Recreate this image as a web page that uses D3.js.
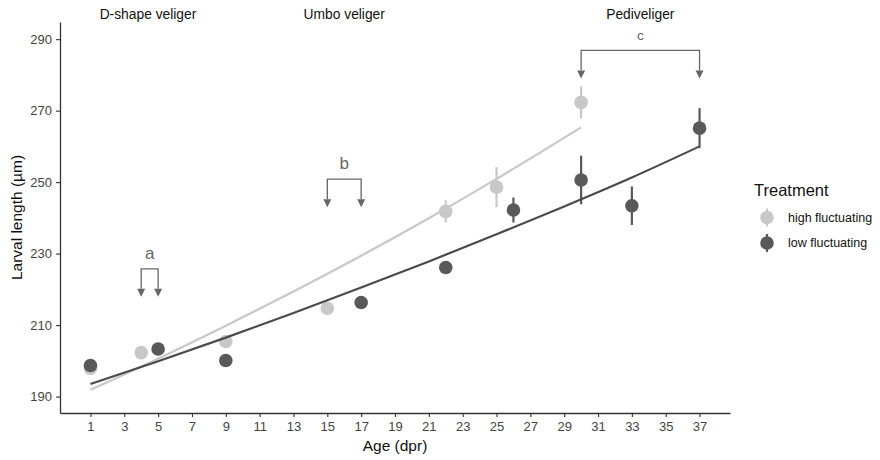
<!DOCTYPE html>
<html>
<head>
<meta charset="utf-8">
<script src="https://cdn.jsdelivr.net/npm/d3@7"></script>
<style>
  body { margin: 0; background: #fff; }
  svg { font-family: Arial, "Liberation Sans", sans-serif; }
</style>
</head>
<body>
<svg id="chart" width="880" height="460"></svg>
<script>
// measured means (µm) per age (dpr)
const highAge = [1, 4, 9, 15, 22, 25, 30];
const highMean = [197.9, 202.3, 205.4, 214.7, 241.8, 248.6, 272.3];
const highErr = [0.8, 0.8, 1.0, 0.8, 3.1, 5.6, 4.5];

const lowAge = [1, 5, 9, 17, 22, 26, 30, 33, 37];
const lowMean = [198.7, 203.3, 200.1, 216.3, 226.1, 242.2, 250.6, 243.4, 265.1];
const lowErr = [0.8, 0.8, 0.8, 0.8, 0.8, 3.5, 6.8, 5.4, 5.6];

// fitted growth curves
const highFitAge = [1, 5, 9, 13, 17, 21, 25, 30];
const highFit = [191.9, 200.6, 209.8, 219.4, 229.4, 239.9, 250.9, 265.3];
const lowFitAge = [1, 5, 9, 13, 17, 21, 25, 29, 33, 37];
const lowFit = [193.5, 199.9, 206.5, 213.4, 220.5, 227.8, 235.4, 243.2, 251.3, 260.0];

const xTicks = d3.range(1, 38, 2);
const yTicks = [190, 210, 230, 250, 270, 290];

const stageNames = ['D-shape veliger', 'Umbo veliger', 'Pediveliger'];
const stageAge = [4.4, 16, 33.5];

const bracketLabels = ['a', 'b', 'c'];
const bracketFrom = [4, 15, 30];
const bracketTo = [5, 17, 37];
const bracketTip = [217.9, 243.0, 279.0];

const treatments = ['high fluctuating', 'low fluctuating'];
const colors = ['#c8c8c8', '#595959'];
const lineColors = ['#c8c8c8', '#4a4a4a'];

const svg = d3.select('#chart');
const x = d3.scaleLinear().domain([-0.8, 38.8]).range([60, 730]);
const y = d3.scaleLinear().domain([185.4, 294.8]).range([413, 22]);

// axes
const xAxis = svg.append('g')
  .attr('transform', 'translate(0,413)')
  .call(d3.axisBottom(x).tickValues(xTicks).tickSize(4).tickPadding(5).tickSizeOuter(0));
const yAxis = svg.append('g')
  .attr('transform', 'translate(60,0)')
  .call(d3.axisLeft(y).tickValues(yTicks).tickSize(4).tickPadding(4).tickSizeOuter(0));
[xAxis, yAxis].forEach(a => {
  a.select('.domain').attr('stroke', '#333').attr('stroke-width', 1.3);
  a.selectAll('.tick line').attr('stroke', '#333').attr('stroke-width', 1.1);
  a.selectAll('.tick text').attr('fill', '#444').style('font-size', '13px');
});

svg.append('text')
  .attr('x', 395).attr('y', 451)
  .attr('text-anchor', 'middle')
  .style('font-size', '15.5px').attr('fill', '#111')
  .text('Age (dpr)');
svg.append('text')
  .attr('transform', 'translate(22,217.5) rotate(-90)')
  .attr('text-anchor', 'middle')
  .style('font-size', '15.5px').attr('fill', '#111')
  .text('Larval length (µm)');

// points with error bars
const groups = [
  { age: highAge, mean: highMean, err: highErr },
  { age: lowAge, mean: lowMean, err: lowErr }
];
groups.forEach((g, gi) => {
  const rows = g.age.map((a, i) => ({ a: a, m: g.mean[i], e: g.err[i] }));
  const layer = svg.append('g');
  layer.selectAll('line')
    .data(rows)
    .enter()
    .append('line')
    .attr('x1', d => x(d.a)).attr('x2', d => x(d.a))
    .attr('y1', d => y(d.m - d.e)).attr('y2', d => y(d.m + d.e))
    .attr('stroke', colors[gi])
    .attr('stroke-width', 2.2);
  layer.selectAll('circle')
    .data(rows)
    .enter()
    .append('circle')
    .attr('cx', d => x(d.a))
    .attr('cy', d => y(d.m))
    .attr('r', 6.8)
    .attr('fill', colors[gi]);
});

// fitted lines
const line = d3.line().x(d => x(d[0])).y(d => y(d[1])).curve(d3.curveMonotoneX);
[[highFitAge, highFit], [lowFitAge, lowFit]].forEach((f, fi) => {
  svg.append('path')
    .datum(f[0].map((a, i) => [a, f[1][i]]))
    .attr('d', line)
    .attr('fill', 'none')
    .attr('stroke', lineColors[fi])
    .attr('stroke-width', 2.2);
});

// stage labels
stageNames.forEach((s, i) => {
  svg.append('text')
    .attr('x', x(stageAge[i])).attr('y', 19)
    .attr('text-anchor', 'middle')
    .style('font-size', '13.8px').attr('fill', '#111')
    .text(s);
});

// brackets with arrows
const bracketFont = ['17px', '17px', '13.5px'];
bracketLabels.forEach((lab, i) => {
  const tip = y(bracketTip[i]);
  const top = tip - 28;
  const g = svg.append('g').attr('stroke', '#666').attr('fill', '#666');
  g.append('path')
    .attr('d', `M${x(bracketFrom[i])},${tip - 8}V${top}H${x(bracketTo[i])}V${tip - 8}`)
    .attr('fill', 'none')
    .attr('stroke-width', 1.3);
  [bracketFrom[i], bracketTo[i]].forEach(a => {
    const cx = x(a);
    g.append('path')
      .attr('d', `M${cx - 4},${tip - 8}L${cx + 4},${tip - 8}L${cx},${tip}Z`)
      .attr('stroke', 'none');
  });
  svg.append('text')
    .attr('x', (x(bracketFrom[i]) + x(bracketTo[i])) / 2)
    .attr('y', top - 10)
    .attr('text-anchor', 'middle')
    .style('font-size', bracketFont[i]).attr('fill', '#666')
    .text(lab);
});

// legend
const legend = svg.append('g').attr('transform', 'translate(752,0)');
legend.append('text')
  .attr('x', 2).attr('y', 196)
  .style('font-size', '16.5px').attr('fill', '#111')
  .text('Treatment');
treatments.forEach((t, i) => {
  const ky = 217.5 + i * 25.5;
  legend.append('line')
    .attr('x1', 15).attr('x2', 15)
    .attr('y1', ky - 9).attr('y2', ky + 9)
    .attr('stroke', colors[i]).attr('stroke-width', 2.2);
  legend.append('circle')
    .attr('cx', 15).attr('cy', ky).attr('r', 6.8)
    .attr('fill', colors[i]);
  legend.append('text')
    .attr('x', 36).attr('y', ky)
    .attr('dy', '0.35em')
    .style('font-size', '12.5px').attr('fill', '#111')
    .text(t);
});
</script>
</body>
</html>
